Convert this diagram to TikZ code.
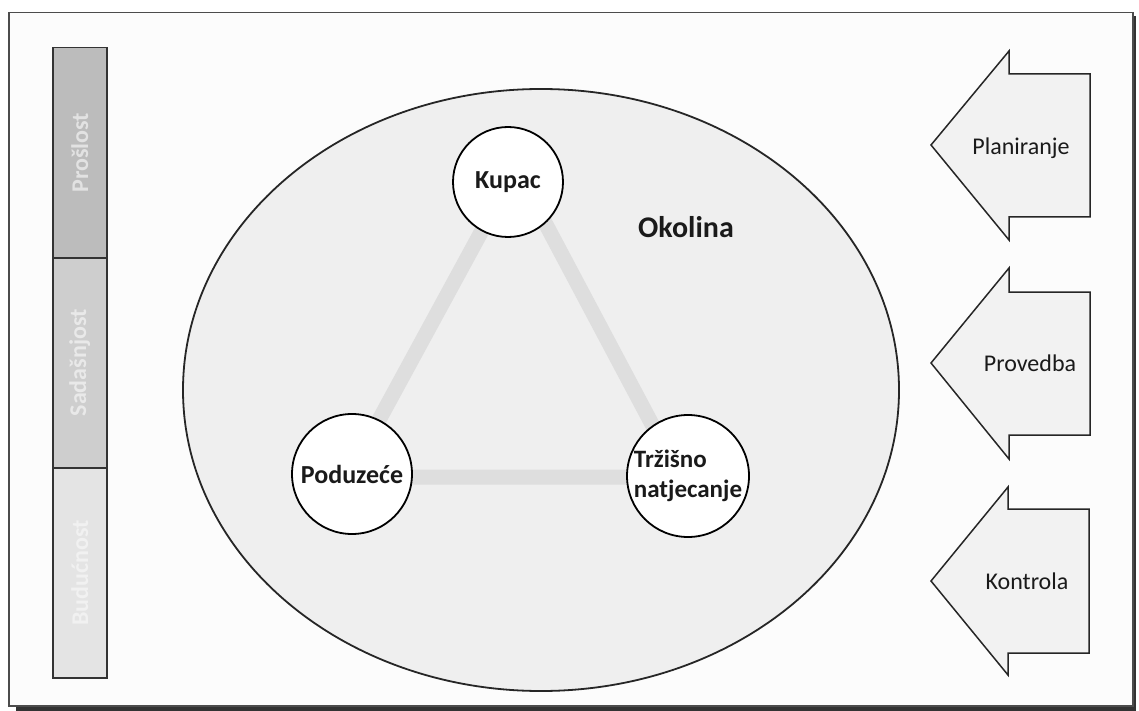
\documentclass[tikz,border=0pt]{standalone}
\usepackage{fontspec}
\setmainfont{Carlito}
\usetikzlibrary{shapes.geometric}
\definecolor{framebg}{HTML}{FCFCFC}
\definecolor{envbg}{HTML}{EFEFEF}
\definecolor{arrowbg}{HTML}{F2F2F2}
\definecolor{trigray}{HTML}{DEDEDE}
\definecolor{barA}{HTML}{BCBCBC}
\definecolor{barB}{HTML}{CECECE}
\definecolor{barC}{HTML}{E4E4E4}
\definecolor{txtA}{HTML}{E2E2E2}
\definecolor{txtB}{HTML}{E9E9E9}
\definecolor{txtC}{HTML}{F1F1F1}
\definecolor{ink}{HTML}{1A1A1A}
\pgfdeclarelayer{bottom}
\pgfdeclarelayer{background}
\pgfsetlayers{bottom,background,main}
\begin{document}
\begin{tikzpicture}[x=1pt,y=-1pt,
  circ/.style={circle, draw=black, line width=1.8pt, fill=white, inner sep=0pt, font=\fontsize{26}{30}\selectfont\bfseries, text=ink},
  barseg/.style={draw=black!80, line width=1.5pt, minimum width=54pt, minimum height=210pt, inner sep=0pt, anchor=north west},
  bartext/.style={rotate=90, font=\fontsize{24}{28}\selectfont\bfseries},
  arrowlabel/.style={font=\fontsize{24}{28}\selectfont, text=ink},
  blockarrow/.style={draw=black!85, line width=1.5pt, fill=arrowbg, line join=miter},
  tri/.style={draw=trigray, line width=15pt}
]
\useasboundingbox (0,0) rectangle (1139,711);
\begin{pgfonlayer}{bottom}
  \fill[white] (0,0) rectangle (1139,711);
  \fill[black!80] (16,16) rectangle (1136,711);
  \node[draw=black!70, line width=1.5pt, fill=framebg, minimum width=1124pt, minimum height=693pt, inner sep=0pt, anchor=north west] (frame) at (8,12) {};
  \node[ellipse, draw=black!85, line width=1.8pt, fill=envbg, minimum width=716pt, minimum height=602pt, inner sep=0pt] (env) at (541,390) {};
\end{pgfonlayer}

% time bar
\node[barseg, fill=barA] (past) at (52,47) {};
\node[barseg, fill=barB] (present) at (52,257) {};
\node[barseg, fill=barC] (future) at (52,467) {};
\node[bartext, text=txtA] (pastlbl) at (past.center) {Prošlost};
\node[bartext, text=txtB] (presentlbl) at (present.center) {Sadašnjost};
\node[bartext, text=txtC] (futurelbl) at (future.center) {Budućnost};

% environment
\node[font=\fontsize{30}{34}\selectfont\bfseries, text=ink] (okolina) at (686,227) {Okolina};

% circles
\node[circ, minimum size=110pt] (kupac) at (508,182) {Kupac};
\node[circ, minimum size=120pt] (poduzece) at (352,474) {Poduzeće};
\node[circ, minimum size=122pt, align=left, font=\fontsize{25}{30}\selectfont\bfseries] (trzisno) at (688,476) {Tržišno\\natjecanje};

\begin{pgfonlayer}{background}
  \draw[tri] ([shift={(8,-14)}]kupac.center) -- ([shift={(-4,3)}]poduzece.center) -- ([shift={(-8,1)}]trzisno.center) -- cycle;
\end{pgfonlayer}

% block arrows
\draw[blockarrow] (931,145) -- (1009,51) -- (1009,74) -- (1090,74) -- (1090,217) -- (1009,217) -- (1009,240) -- cycle;
\draw[blockarrow] (931,363) -- (1009,268) -- (1009,292) -- (1090,292) -- (1090,435) -- (1009,435) -- (1009,459) -- cycle;
\draw[blockarrow] (931,581) -- (1008,487) -- (1008,509) -- (1089,509) -- (1089,653) -- (1008,653) -- (1008,675) -- cycle;
\node[arrowlabel] (plan) at (1021,148) {Planiranje};
\node[arrowlabel] (prov) at (1030,363) {Provedba};
\node[arrowlabel] (kontr) at (1027,581) {Kontrola};
\end{tikzpicture}
\end{document}
